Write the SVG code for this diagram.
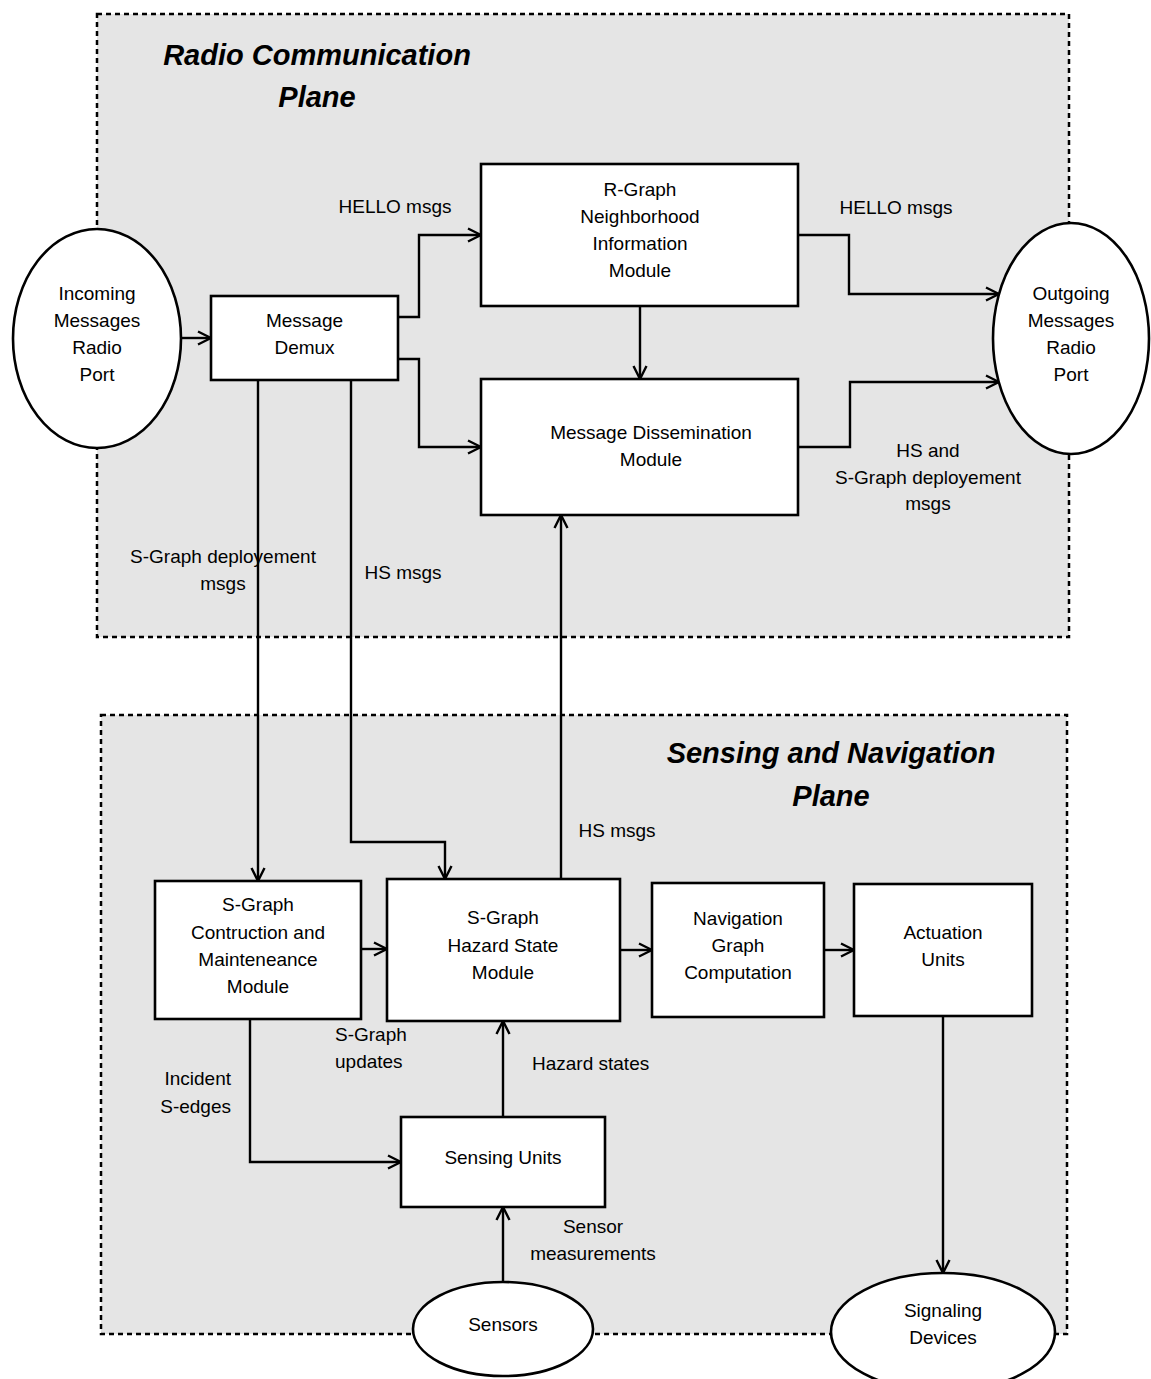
<svg xmlns="http://www.w3.org/2000/svg" width="1151" height="1379" viewBox="0 0 1151 1379">
  <style>
    .plane { fill: #e5e5e5; stroke: #000; stroke-width: 2.5; stroke-dasharray: 5 4; }
    .box { fill: #fff; stroke: #000; stroke-width: 2.6; }
    .port { fill: #fff; stroke: #000; stroke-width: 2.6; }
    .wire { fill: none; stroke: #000; stroke-width: 2.4; marker-end: url(#arr); }
    .wire-plain { fill: none; stroke: #000; stroke-width: 2.4; }
    text { font-family: "Liberation Sans", Arial, Helvetica, sans-serif; font-size: 19px; fill: #000; }
    .c { text-anchor: middle; }
    .e { text-anchor: end; }
    .title { font-size: 29px; font-weight: bold; font-style: italic; text-anchor: middle; }
  </style>
  <defs>
    <marker id="arr" markerUnits="userSpaceOnUse" markerWidth="18" markerHeight="18" viewBox="-16 -9 18 18" refX="0" refY="0" orient="auto">
      <path d="M-13,-6.5 L0,0 L-13,6.5" fill="none" stroke="#000" stroke-width="2.4"/>
    </marker>
  </defs>

  <!-- planes -->
  <g id="radio-plane">
    <rect class="plane" x="97" y="14" width="972" height="623"/>
    <text class="title" x="317" y="65">Radio Communication</text>
    <text class="title" x="317" y="107">Plane</text>
  </g>
  <g id="sensing-plane">
    <rect class="plane" x="101" y="715" width="966" height="619"/>
    <text class="title" x="831" y="763">Sensing and Navigation</text>
    <text class="title" x="831" y="806">Plane</text>
  </g>

  <!-- connectors -->
  <g id="connectors">
    <path class="wire" d="M181,338 H211"/>
    <path class="wire" d="M398,317 H419 V235 H481"/>
    <path class="wire" d="M398,359 H419 V447 H481"/>
    <path class="wire" d="M640,306 V379"/>
    <path class="wire" d="M798,235 H849 V294 H999"/>
    <path class="wire" d="M798,447 H850 V382 H999"/>
    <path class="wire" d="M258,380 V881"/>
    <path class="wire" d="M351,380 V842 H445 V879"/>
    <path class="wire" d="M561,879 V515"/>
    <path class="wire" d="M361,949 H387"/>
    <path class="wire" d="M620,950 H652"/>
    <path class="wire" d="M824,950 H854"/>
    <path class="wire" d="M250,1019 V1162 H401"/>
    <path class="wire" d="M503,1117 V1021"/>
    <path class="wire" d="M503,1282 V1207"/>
    <path class="wire" d="M943,1016 V1273"/>

    <text class="c" x="395" y="213">HELLO msgs</text>
    <text class="c" x="896" y="214">HELLO msgs</text>
    <text class="c" x="928" y="457">HS and</text>
    <text class="c" x="928" y="484">S-Graph deployement</text>
    <text class="c" x="928" y="510">msgs</text>
    <text class="c" x="223" y="563">S-Graph deployement</text>
    <text class="c" x="223" y="590">msgs</text>
    <text class="c" x="403" y="579">HS msgs</text>
    <text class="c" x="617" y="837">HS msgs</text>
    <text x="335" y="1041">S-Graph</text>
    <text x="335" y="1068">updates</text>
    <text class="e" x="231" y="1085">Incident</text>
    <text class="e" x="231" y="1113">S-edges</text>
    <text x="532" y="1070">Hazard states</text>
    <text class="c" x="593" y="1233">Sensor</text>
    <text class="c" x="593" y="1260">measurements</text>
  </g>

  <!-- nodes -->
  <g id="incoming-port">
    <ellipse class="port" cx="97" cy="338.5" rx="84" ry="109.5"/>
    <text class="c" x="97" y="300">Incoming</text>
    <text class="c" x="97" y="327">Messages</text>
    <text class="c" x="97" y="354">Radio</text>
    <text class="c" x="97" y="381">Port</text>
  </g>
  <g id="outgoing-port">
    <ellipse class="port" cx="1071" cy="338.5" rx="78" ry="115.5"/>
    <text class="c" x="1071" y="300">Outgoing</text>
    <text class="c" x="1071" y="327">Messages</text>
    <text class="c" x="1071" y="354">Radio</text>
    <text class="c" x="1071" y="381">Port</text>
  </g>
  <g id="message-demux">
    <rect class="box" x="211" y="296" width="187" height="84"/>
    <text class="c" x="304.5" y="327">Message</text>
    <text class="c" x="304.5" y="354">Demux</text>
  </g>
  <g id="rgraph-module">
    <rect class="box" x="481" y="164" width="317" height="142"/>
    <text class="c" x="640" y="196">R-Graph</text>
    <text class="c" x="640" y="223">Neighborhood</text>
    <text class="c" x="640" y="250">Information</text>
    <text class="c" x="640" y="277">Module</text>
  </g>
  <g id="dissemination-module">
    <rect class="box" x="481" y="379" width="317" height="136"/>
    <text class="c" x="651" y="439">Message Dissemination</text>
    <text class="c" x="651" y="466">Module</text>
  </g>
  <g id="construction-module">
    <rect class="box" x="155" y="881" width="206" height="138"/>
    <text class="c" x="258" y="911">S-Graph</text>
    <text class="c" x="258" y="939">Contruction and</text>
    <text class="c" x="258" y="966">Mainteneance</text>
    <text class="c" x="258" y="993">Module</text>
  </g>
  <g id="hazard-module">
    <rect class="box" x="387" y="879" width="233" height="142"/>
    <text class="c" x="503" y="924">S-Graph</text>
    <text class="c" x="503" y="952">Hazard State</text>
    <text class="c" x="503" y="979">Module</text>
  </g>
  <g id="navigation-module">
    <rect class="box" x="652" y="883" width="172" height="134"/>
    <text class="c" x="738" y="925">Navigation</text>
    <text class="c" x="738" y="952">Graph</text>
    <text class="c" x="738" y="979">Computation</text>
  </g>
  <g id="actuation-units">
    <rect class="box" x="854" y="884" width="178" height="132"/>
    <text class="c" x="943" y="939">Actuation</text>
    <text class="c" x="943" y="966">Units</text>
  </g>
  <g id="sensing-units">
    <rect class="box" x="401" y="1117" width="204" height="90"/>
    <text class="c" x="503" y="1164">Sensing Units</text>
  </g>
  <g id="sensors">
    <ellipse class="port" cx="503" cy="1329" rx="90" ry="47"/>
    <text class="c" x="503" y="1331">Sensors</text>
  </g>
  <g id="signaling-devices">
    <ellipse class="port" cx="943" cy="1332" rx="112" ry="59"/>
    <text class="c" x="943" y="1317">Signaling</text>
    <text class="c" x="943" y="1344">Devices</text>
  </g>
</svg>
